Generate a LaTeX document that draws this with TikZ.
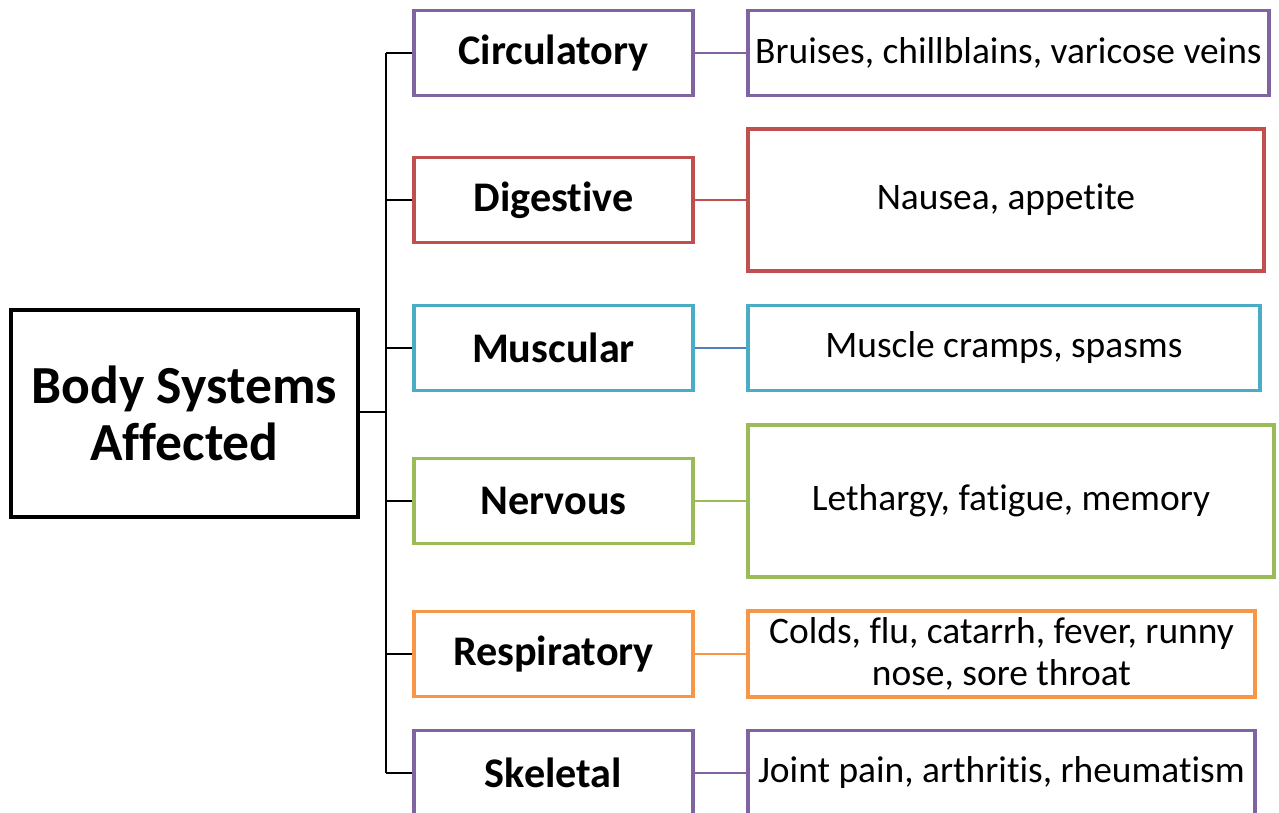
\documentclass[tikz,border=0pt]{standalone}
\usepackage{fontspec}
\setmainfont{Carlito}[Ligatures=NoCommon]
\usetikzlibrary{positioning,calc}
\definecolor{syspurple}{HTML}{8064A2}
\definecolor{sysred}{HTML}{C0504D}
\definecolor{sysaqua}{HTML}{4BACC6}
\definecolor{sysblue}{HTML}{4F81BD}
\definecolor{sysgreen}{HTML}{9BBB59}
\definecolor{sysorange}{HTML}{F79646}

\begin{document}
\begin{tikzpicture}[
    sysbox/.style={draw, line width=2.2pt, minimum width=5.58cm, minimum height=1.70cm,
      font=\fontsize{24}{28}\selectfont\bfseries, inner sep=0pt},
    symbox/.style={draw, line width=2.2pt, align=center, inner sep=0pt,
      font=\fontsize{21.3}{23.5}\selectfont},
    link/.style={line width=1pt}]
    \clip (0,0) rectangle (25.58,-16.24);
    \node[draw, line width=2.4pt, minimum width=6.94cm, minimum height=4.14cm, align=center,
      font=\fontsize{30.5}{32.5}\selectfont\bfseries] (root) at (3.69,-8.27) {Body Systems\\Affected};
    \coordinate (trunk) at (7.72,-8.24);
    \draw[link] (root.east |- trunk) -- (trunk);
    \foreach \n/\y/\c/\lc/\lab/\txt/\w/\h in {
      circ/-1.06/syspurple/syspurple/Circulatory/{Bruises, chillblains, varicose veins}/10.42/1.70,
      dige/-4.00/sysred/sysred/Digestive/{Nausea, appetite}/10.32/2.84,
      musc/-6.96/sysaqua/sysblue/Muscular/{Muscle cramps, spasms}/10.24/1.70,
      nerv/-10.02/sysgreen/sysgreen/Nervous/{Lethargy, fatigue, memory}/10.52/3.04,
      resp/-13.08/sysorange/sysorange/Respiratory/{Colds, flu, catarrh, fever, runny\\nose, sore throat}/10.14/1.72,
      skel/-15.46/syspurple/syspurple/Skeletal/{Joint pain, arthritis, rheumatism}/10.14/1.70}
    {
      \node[sysbox, draw=\c, anchor=west] (\n) at (8.24,\y) {\lab};
      \node[symbox, draw=\c, anchor=west, minimum width=\w cm, minimum height=\h cm] (\n-s) at (14.92,\y) {\txt};
      \draw[link] (trunk |- \n.west) -- (\n.west);
      \draw[\lc, line width=0.9pt] (\n.east) -- (\n-s.west);
    }
    \draw[link] (trunk |- circ.west) -- (trunk |- skel.west);
  \end{tikzpicture}
\end{document}
